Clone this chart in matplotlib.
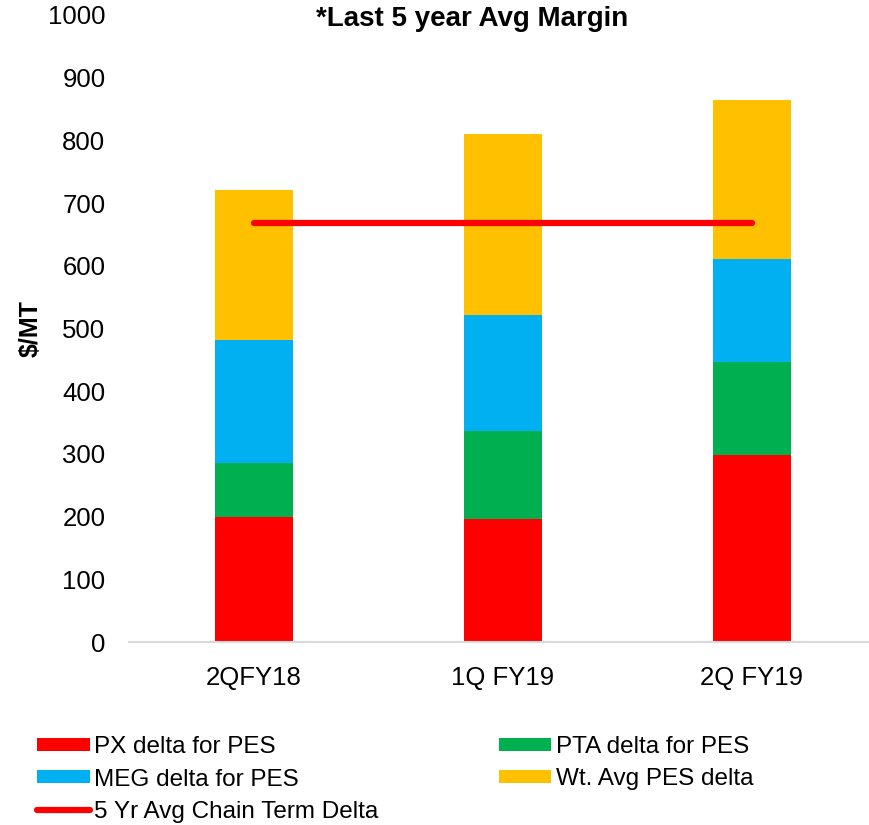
import matplotlib
matplotlib.use('agg')
import matplotlib.pyplot as plt
import numpy as np

plt.rcParams['font.family'] = ['Liberation Sans', 'DejaVu Sans']

# data ($/MT)
quarters = ['2QFY18', '1Q FY19', '2Q FY19']
px_delta = [199, 196, 298]
pta_delta = [86, 141, 148]
meg_delta = [197, 185, 165]
wt_avg_delta = [239, 288, 254]
chain_avg = [669, 669, 669]

colors = ['#FF0000', '#00B050', '#00B0F0', '#FFC000']

fig = plt.figure(figsize=(8.69, 8.25), dpi=100)
ax = fig.add_axes([129 / 869, 1 - 642 / 825, 1 - 129 / 869, 627 / 825])

x = np.arange(len(quarters))
width = 0.313
bottom = np.zeros(len(quarters))
series = [
    (px_delta, 'PX delta for PES'),
    (pta_delta, 'PTA delta for PES'),
    (meg_delta, 'MEG delta for PES'),
    (wt_avg_delta, 'Wt. Avg PES delta'),
]
bars = []
for (vals, name), c in zip(series, colors):
    b = ax.bar(x, vals, width, bottom=bottom, color=c, label=name, zorder=2)
    bars.append(b)
    bottom += np.array(vals)

line, = ax.plot(x, chain_avg, color='#FF0000', lw=4.5, solid_capstyle='round',
                label='5 Yr Avg Chain Term Delta', zorder=3)

ax.set_xlim(-0.5, 2.47)
ax.set_ylim(0, 1000)
ax.set_yticks(range(0, 1001, 100))
ax.set_xticks(x)
ax.set_xticklabels(quarters)
ax.tick_params(axis='both', length=0, labelsize=18.5)
ax.tick_params(axis='y', pad=17)
ax.tick_params(axis='x', pad=17)
for s in ['top', 'right', 'left']:
    ax.spines[s].set_visible(False)
ax.spines['bottom'].set_color('#D9D9D9')
ax.spines['bottom'].set_linewidth(1.5)

ax.set_ylabel('$/MT', fontsize=18, fontweight='bold')
ax.yaxis.set_label_coords(-0.117, 0.5)

fig.text(472 / 869, 1 - 19 / 825, '*Last 5 year Avg Margin', fontsize=20,
         fontweight='bold', ha='center', va='center')

# column-first order: PX, MEG, line | PTA, Wt. Avg
handles = [bars[0], bars[2], line, bars[1], bars[3]]
labels = [h.get_label() for h in handles]
fig.legend(handles, labels, ncol=2, loc='upper left',
           bbox_to_anchor=(30 / 869, 1 - 729 / 825), frameon=False,
           fontsize=17.5, handlelength=2.15, handleheight=0.45,
           handletextpad=0.2, columnspacing=4.95, labelspacing=0.42,
           borderaxespad=0, borderpad=0.3)

fig.savefig('out.png', dpi=100)
